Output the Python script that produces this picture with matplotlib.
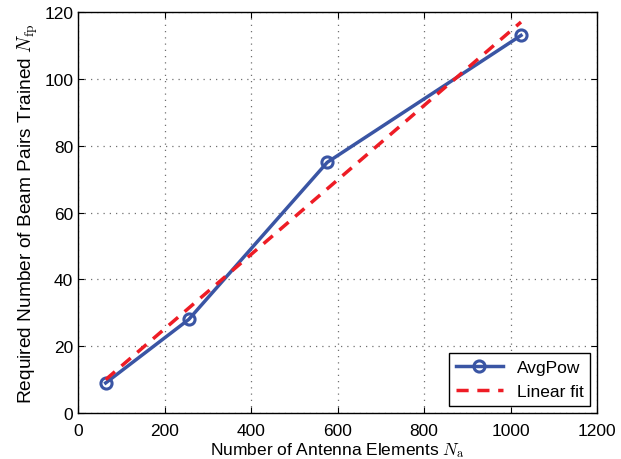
import matplotlib
matplotlib.use('Agg')
import matplotlib.pyplot as plt

plt.rcParams['font.family'] = ['Liberation Sans', 'DejaVu Sans']
plt.rcParams['mathtext.fontset'] = 'cm'

# data
antennas = [64, 256, 576, 1024]
beam_pairs = [9, 28, 75, 113]
fit_x = [64, 1024]
fit_y = [10, 117]

fig = plt.figure(figsize=(6.21, 4.6), dpi=100)
ax = fig.add_axes([0.1256, 0.1, 0.836, 0.8717])

ax.plot(antennas, beam_pairs, '-o', color='#3a55a4', lw=2.5, ms=8,
        mfc='none', mew=2.2, label='AvgPow')
ax.plot(fit_x, fit_y, '--', color='#ee1c25', lw=2.5, dashes=(3.5, 2.5),
        label='Linear fit')

ax.set_xlim(0, 1200)
ax.set_ylim(0, 120)
ax.set_xticks(range(0, 1201, 200))
ax.set_yticks(range(0, 121, 20))
ax.grid(True, linestyle=(0, (1, 4)), color='#707070', lw=0.9)
ax.tick_params(direction='in', top=True, right=True, labelsize=12.5, length=4)
ax.tick_params(axis='x', pad=7)
for s in ax.spines.values():
    s.set_linewidth(1.0)

ax.set_xlabel(r'Number of Antenna Elements $N_{\mathrm{a}}$', fontsize=12.5, labelpad=2)
ax.set_ylabel(r'Required Number of Beam Pairs Trained $N_{\mathrm{fp}}$', fontsize=13.8, labelpad=3)

leg = ax.legend(loc='lower right', fontsize=12.5, fancybox=False, framealpha=1,
                edgecolor='black', borderaxespad=0.4, handlelength=2.7)
leg.get_frame().set_linewidth(1.0)

plt.savefig('out.png', dpi=100)
